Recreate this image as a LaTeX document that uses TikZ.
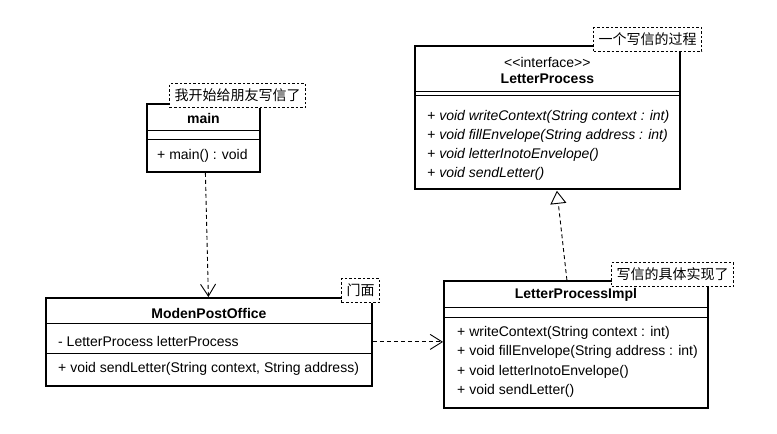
\documentclass[tikz,border=0pt]{standalone}
\usepackage{fontspec}
\setmainfont{Liberation Sans}
\newfontfamily\cjk{Noto Sans CJK SC}
\usetikzlibrary{calc,arrows.meta,positioning}

\begin{document}
\begin{tikzpicture}[x=1pt,y=-1pt,font=\fontsize{14}{16}\selectfont]
        \tikzstyle{classbox}=[draw, line width=1.8pt, fill=white, inner sep=0pt, anchor=north west]
        \tikzstyle{sep}=[line width=0.9pt]
        \tikzstyle{title}=[font=\fontsize{14}{16}\selectfont\bfseries, inner sep=0pt]
        \tikzstyle{member}=[anchor=west, inner sep=0pt]
        \tikzstyle{abstractmember}=[member, font=\fontsize{14}{16}\selectfont\itshape]
        \tikzstyle{note}=[draw, fill=white, line width=0.8pt, dash pattern=on 2.5pt off 2pt,
            inner xsep=5pt, inner ysep=0pt, minimum height=24pt, font=\fontsize{14}{16}\selectfont\cjk]
        \tikzstyle{depends}=[line width=0.9pt, dash pattern=on 4pt off 3pt,
            -{Straight Barb[length=12pt,width=15pt,line width=0.9pt]}]
        \tikzstyle{realizes}=[line width=0.9pt, dash pattern=on 4pt off 3pt,
            -{Triangle[open,length=13pt,width=16pt,line width=0.9pt,fill=white]}]

        \useasboundingbox (0,0) rectangle (777,434);

        % Class main
        \node[classbox, minimum width=113pt, minimum height=68pt] (main) at (146,103) {};
        \draw[sep] ($(main.north west)+(0,27)$) -- ($(main.north east)+(0,27)$);
        \draw[sep] ($(main.north west)+(0,36)$) -- ($(main.north east)+(0,36)$);
        \node[title] (mainname) at ($(main.north)+(0,15)$) {main};
        \node[member] (mainop) at ($(main.north west)+(11,53)$) {+ main() : void};

        % Interface LetterProcess
        \node[classbox, minimum width=265pt, minimum height=143pt] (lp) at (414,45) {};
        \draw[sep] ($(lp.north west)+(0,46)$) -- ($(lp.north east)+(0,46)$);
        \draw[sep] ($(lp.north west)+(0,50)$) -- ($(lp.north east)+(0,50)$);
        \node[inner sep=0pt] (lpstereo) at ($(lp.north)+(0,17)$) {{<}{<}interface{>}{>}};
        \node[title] (lpname) at ($(lp.north)+(0,34)$) {LetterProcess};
        \node[abstractmember] (lpop1) at ($(lp.north west)+(13,72)$) {+ void writeContext(String context : int)};
        \node[abstractmember] (lpop2) at ($(lp.north west)+(13,91)$) {+ void fillEnvelope(String address : int)};
        \node[abstractmember] (lpop3) at ($(lp.north west)+(13,110)$) {+ void letterInotoEnvelope()};
        \node[abstractmember] (lpop4) at ($(lp.north west)+(13,129)$) {+ void sendLetter()};

        % Class ModenPostOffice
        \node[classbox, minimum width=326pt, minimum height=88pt] (mpo) at (45,297) {};
        \draw[sep] ($(mpo.north west)+(0,26)$) -- ($(mpo.north east)+(0,26)$);
        \draw[sep] ($(mpo.north west)+(0,56)$) -- ($(mpo.north east)+(0,56)$);
        \node[title] (mponame) at ($(mpo.north)+(0,16)$) {ModenPostOffice};
        \node[member] (mpoattr) at ($(mpo.north west)+(13,44)$) {- LetterProcess letterProcess};
        \node[member] (mpoop) at ($(mpo.north west)+(13,72)$) {+ void sendLetter(String context, String address)};

        % Class LetterProcessImpl
        \node[classbox, minimum width=264pt, minimum height=127pt] (lpi) at (443,280) {};
        \draw[sep] ($(lpi.north west)+(0,27)$) -- ($(lpi.north east)+(0,27)$);
        \draw[sep] ($(lpi.north west)+(0,37)$) -- ($(lpi.north east)+(0,37)$);
        \node[title] (lpiname) at ($(lpi.north)+(0,15)$) {LetterProcessImpl};
        \node[member] (lpiop1) at ($(lpi.north west)+(14,53)$) {+ writeContext(String context : int)};
        \node[member] (lpiop2) at ($(lpi.north west)+(14,72)$) {+ void fillEnvelope(String address : int)};
        \node[member] (lpiop3) at ($(lpi.north west)+(14,92)$) {+ void letterInotoEnvelope()};
        \node[member] (lpiop4) at ($(lpi.north west)+(14,111)$) {+ void sendLetter()};

        % Notes on the corners
        \node[note] (mainnote) at (237.5,95.5) {我开始给朋友写信了};
        \node[note] (lpnote) at (647.5,39.5) {一个写信的过程};
        \node[note] (mponote) at (360.5,290.5) {门面};
        \node[note] (lpinote) at (672.5,274.5) {写信的具体实现了};

        % Connectors
        \draw[depends] ($(main.south)+(2,0)$) -- ($(main.south |- mpo.north)+(5,0)$);
        \draw[depends] (mpo.east) -- (mpo.east -| lpi.west);
        \draw[realizes] ($(lpi.north)+(-9,0)$) -- ($(lp.south)+(9.5,1)$);
\end{tikzpicture}
\end{document}
